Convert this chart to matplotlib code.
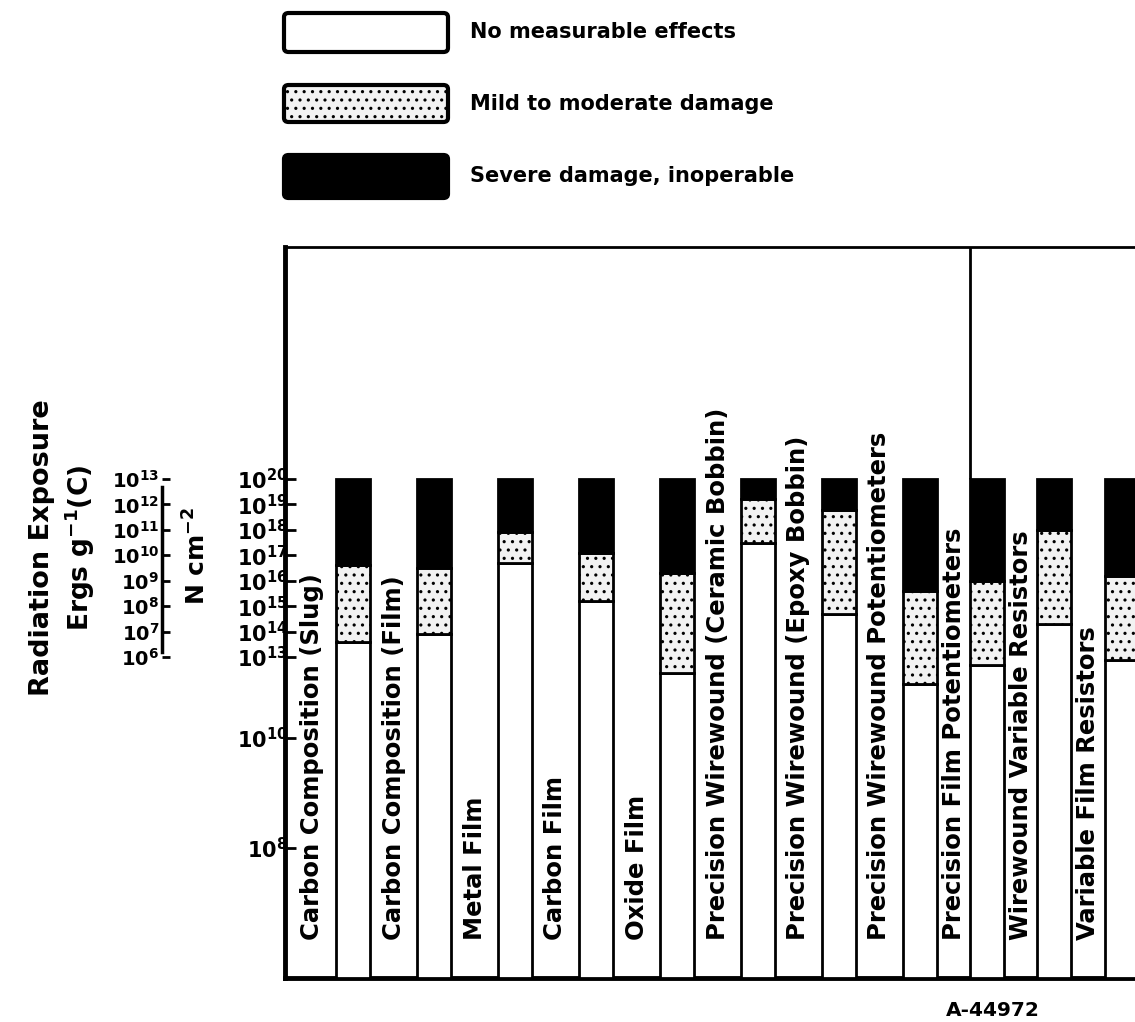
import numpy as np
import matplotlib
matplotlib.use("Agg")
import matplotlib.pyplot as plt
from matplotlib.patches import FancyBboxPatch

plt.rcParams["font.family"] = ["DejaVu Sans"]
plt.rcParams["font.weight"] = "bold"
plt.rcParams["mathtext.default"] = "bf"
plt.rcParams["hatch.linewidth"] = 1.1

# Resistor types and the fluence exponents (N cm^-2) at which damage sets in
components = [
    "Carbon Composition (Slug)",
    "Carbon Composition (Film)",
    "Metal Film",
    "Carbon Film",
    "Oxide Film",
    "Precision Wirewound (Ceramic Bobbin)",
    "Precision Wirewound (Epoxy Bobbin)",
    "Precision Wirewound Potentiometers",
    "Precision Film Potentiometers",
    "Wirewound Variable Resistors",
    "Variable Film Resistors",
]
mild_onset = [13.6, 13.9, 16.7, 15.2, 12.4, 17.5, 14.7, 12.0, 12.7, 14.3, 12.9]
severe_onset = [16.6, 16.5, 17.9, 17.1, 16.3, 19.2, 18.8, 15.6, 16.0, 18.0, 16.2]
max_exposure = 20

fluence_ticks = [20, 19, 18, 17, 16, 15, 14, 13, 10, 8]
ergs_ticks = [13, 12, 11, 10, 9, 8, 7, 6]
ergs_offset = 7  # 10^k ergs/g(C) sits level with 10^(k+7) N cm^-2

legend_labels = ["No measurable effects", "Mild to moderate damage",
                 "Severe damage, inoperable"]

# Hand-drawn exposure axis: decades are not evenly spaced, so use a piecewise scale
EXP_KNOTS = np.array([4.0, 8.0, 10.0, 13.0, 20.0, 32.0])
POS_KNOTS = np.array([-90.0, 130.0, 240.0, 321.0, 499.0, 804.0])


def to_pos(e):
    return np.interp(e, EXP_KNOTS, POS_KNOTS)


def from_pos(p):
    return np.interp(p, POS_KNOTS, EXP_KNOTS)


Y_LOW = float(from_pos(0.0))
Y_HIGH = float(from_pos(731.0))

# Category positions: the last three columns are packed more tightly
gaps = [1.0] * 7 + [0.83] * 3
xpos = np.concatenate([[0.0], np.cumsum(gaps)])
label_x = xpos - np.concatenate([[1.0], gaps]) * 0.5
bar_w = 0.42

W, H = 1135, 1022
fig = plt.figure(figsize=(W / 100, H / 100), dpi=100)
ax_bottom = 44 / H
ax_height = 731 / H
ax = fig.add_axes([285 / W, ax_bottom, (W - 285) / W + 0.01, ax_height])
ax.set_yscale("function", functions=(to_pos, from_pos))
ax.set_ylim(Y_LOW, Y_HIGH)
ax.set_xlim(-68 / 81, -68 / 81 + (W - 285) / 81 * (1 + 0.01 * W / (W - 285)))

mild = np.array(mild_onset)
severe = np.array(severe_onset)
stipple_face = "#f2f2f2"
bar_kw = dict(width=bar_w, edgecolor="black", linewidth=2.0, zorder=3)
ax.bar(xpos, mild - Y_LOW, bottom=Y_LOW, color="white", **bar_kw)
ax.bar(xpos, severe - mild, bottom=mild, color=stipple_face, hatch="..", **bar_kw)
ax.bar(xpos, max_exposure - severe, bottom=severe, color="black", **bar_kw)

for lx, name in zip(label_x, components):
    ax.text(lx, 0.052, name, rotation=90, ha="center", va="bottom",
            fontsize=17.5, fontweight="bold", transform=ax.get_xaxis_transform())

# divider rising from the film potentiometer column to the top frame
ax.vlines(xpos[8] - bar_w / 2, max_exposure, Y_HIGH, color="black", lw=2)

ax.spines["right"].set_visible(False)
ax.spines["left"].set_linewidth(3.5)
ax.spines["bottom"].set_linewidth(3.5)
ax.spines["top"].set_linewidth(2)
ax.set_xticks([])
ax.set_yticks(fluence_ticks)
ax.set_yticklabels([rf"$10^{{{t}}}$" for t in fluence_ticks])
ax.yaxis.set_minor_locator(matplotlib.ticker.NullLocator())
ax.tick_params(axis="y", direction="in", length=8, width=2, labelsize=15, pad=-2)

# Companion scale in ergs per gram of carbon
ax2 = fig.add_axes([162 / W, ax_bottom, 0.001, ax_height])
ax2.set_yscale("function", functions=(to_pos, from_pos))
ax2.set_ylim(Y_LOW, Y_HIGH)
for side in ["right", "top", "bottom"]:
    ax2.spines[side].set_visible(False)
ax2.spines["left"].set_linewidth(2.5)
ax2.spines["left"].set_bounds(13.2, 19.7)
ax2.set_xticks([])
ax2.set_yticks([e + ergs_offset for e in ergs_ticks])
ax2.set_yticklabels([rf"$10^{{{t}}}$" for t in ergs_ticks])
ax2.yaxis.set_minor_locator(matplotlib.ticker.NullLocator())
ax2.tick_params(axis="y", direction="in", length=6, width=2, labelsize=14, pad=2)
ax2.patch.set_visible(False)

ymid = 1 - 556 / H
fig.text(197 / W, ymid, r"N cm$^{-2}$", rotation=90, ha="center", va="center",
         fontsize=18, fontweight="bold")
fig.text(80 / W, 1 - 548 / H, r"Ergs g$^{-1}$(C)", rotation=90, ha="center",
         va="center", fontsize=19, fontweight="bold")
fig.text(42 / W, 1 - 548 / H, "Radiation Exposure", rotation=90, ha="center",
         va="center", fontsize=19.5, fontweight="bold")

# Key at the top
key_styles = [dict(facecolor="white"), dict(facecolor=stipple_face, hatch=".."),
              dict(facecolor="black")]
key_rows = [(13, 52), (85, 122), (155, 198)]
for (top, bot), style, text in zip(key_rows, key_styles, legend_labels):
    box = FancyBboxPatch((284 / W, 1 - bot / H), (448 - 284) / W, (bot - top) / H,
                         boxstyle="round,pad=0,rounding_size=0.004",
                         transform=fig.transFigure, edgecolor="black",
                         linewidth=3, **style)
    fig.patches.append(box)
    fig.text(470 / W, 1 - (top + bot) / 2 / H, text, ha="left", va="center",
             fontsize=15, fontweight="bold")

fig.text(993 / W, 1 - 1010 / H, "A-44972", ha="center", va="center",
         fontsize=14.5, fontweight="bold")

fig.savefig("out.png", dpi=100, facecolor="white")
